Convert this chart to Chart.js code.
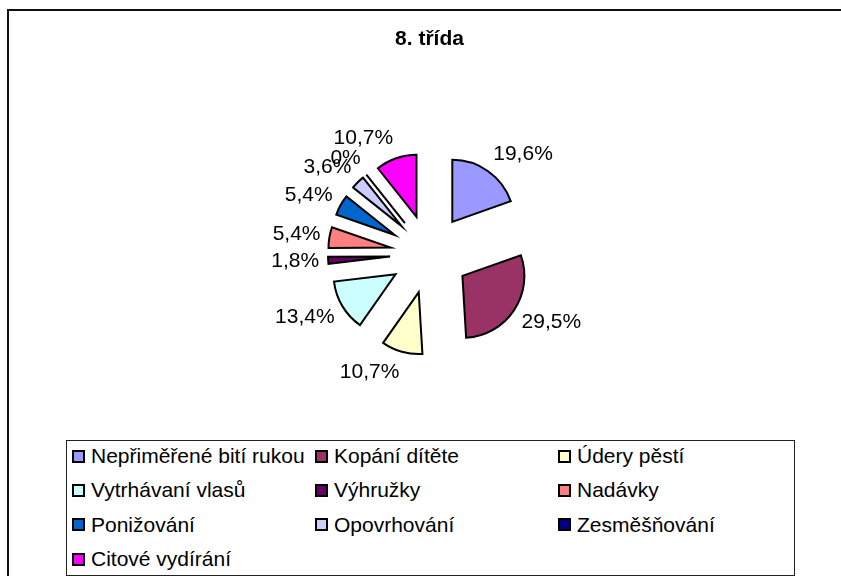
<!DOCTYPE html>
<html>
<head>
<meta charset="utf-8">
<script src="https://cdn.jsdelivr.net/npm/chart.js@4.4.0/dist/chart.umd.min.js"></script>
<style>
  html, body { margin: 0; padding: 0; background: #fff; }
  body { width: 841px; height: 576px; overflow: hidden; position: relative; font-family: "Liberation Sans", Arial, sans-serif; }
  #frame { position: absolute; left: 7px; top: 9px; width: 900px; height: 700px; border-left: 2px solid #111; border-top: 2px solid #111; }
  #chart { position: absolute; left: 0; top: 0; }
  #legend { position: absolute; left: 66px; top: 440px; width: 727px; height: 134px; border: 1px solid #222; background: #fff; }
  #legend .grid { display: grid; grid-template-columns: 243px 243px 241px; grid-auto-rows: 34.3px; margin-top: -2px; padding-left: 5px; }
  #legend .item { display: flex; align-items: center; font-size: 21px; color: #000; white-space: nowrap; }
  #legend .box { width: 9px; height: 9px; border: 2px solid #000; margin-right: 6px; flex: none; }
</style>
</head>
<body>
<div id="frame"></div>
<canvas id="chart" width="841" height="576"></canvas>
<div id="legend"><div class="grid"></div></div>
<script>
// data (procenta)
const categories = ["Nepřiměřené bití rukou", "Kopání dítěte", "Údery pěstí", "Vytrhávaní vlasů", "Výhružky", "Nadávky", "Ponižování", "Opovrhování", "Zesměšňování", "Citové vydírání"];
const values = [19.6, 29.5, 10.7, 13.4, 1.8, 5.4, 5.4, 3.6, 0, 10.7];
const colors = ["#9999FF", "#993366", "#FFFFCC", "#CCFFFF", "#660066", "#FF8080", "#0066CC", "#CCCCFF", "#000080", "#FF00FF"];
const title = "8. třída";

const FONT = "'Liberation Sans', Arial, sans-serif";
const EXPLODE = 39.5; // how far each slice is pulled out

const fmt = v => v === 0 ? "0%" : v.toFixed(1).replace(".", ",") + "%";

// pull every slice out along its middle angle (like excel exploded pie)
const explodePlugin = {
  id: "explode",
  afterUpdate(chart) {
    const meta = chart.getDatasetMeta(0);
    meta.data.forEach(arc => {
      const mid = (arc.startAngle + arc.endAngle) / 2;
      arc.cx = arc.x;
      arc.cy = arc.y;
      arc.x = arc.cx + Math.cos(mid) * EXPLODE;
      arc.y = arc.cy + Math.sin(mid) * EXPLODE;
    });
  },
  afterDatasetsDraw(chart) {
    const ctx = chart.ctx;
    const meta = chart.getDatasetMeta(0);
    ctx.save();
    meta.data.forEach((arc, i) => {
      const mid = (arc.startAngle + arc.endAngle) / 2;
      const cos = Math.cos(mid), sin = Math.sin(mid);
      // zero slice: excel still draws its edge as a line
      if (arc.endAngle - arc.startAngle === 0) {
        ctx.strokeStyle = "#000";
        ctx.lineWidth = 2;
        ctx.beginPath();
        ctx.moveTo(arc.x, arc.y);
        ctx.lineTo(arc.x + cos * arc.outerRadius, arc.y + sin * arc.outerRadius);
        ctx.stroke();
      }
      // data label outside the slice
      const txt = fmt(values[i]);
      ctx.font = "21px " + FONT;
      ctx.fillStyle = "#000";
      ctx.textAlign = "center";
      ctx.textBaseline = "middle";
      const hw = ctx.measureText(txt).width / 2;
      const d = arc.outerRadius + EXPLODE + 9;
      const px = arc.cx + cos * d;
      const py = arc.cy + sin * d;
      const sx = Math.abs(cos) < 0.1 ? 0 : Math.sign(cos);
      ctx.fillText(txt, px + sx * hw, py + sin * 12);
    });
    ctx.restore();
  }
};

new Chart(document.getElementById("chart"), {
  type: "pie",
  data: {
    labels: categories,
    datasets: [{
      data: values,
      backgroundColor: colors,
      borderColor: "#000",
      borderWidth: 2,
      borderJoinStyle: "miter"
    }]
  },
  options: {
    responsive: false,
    animation: false,
    events: [],
    radius: 62,
    layout: { padding: { left: 18, top: 0, right: 0, bottom: 130 } },
    plugins: {
      legend: { display: false },
      tooltip: { enabled: false },
      title: {
        display: true,
        text: title,
        color: "#000",
        font: { family: FONT, size: 21, weight: "bold", lineHeight: 1.2 },
        padding: { top: 27, bottom: 10 }
      }
    }
  },
  plugins: [explodePlugin]
});

// legend in three columns like the excel one
const grid = document.querySelector("#legend .grid");
categories.forEach((name, i) => {
  const item = document.createElement("div");
  item.className = "item";
  const box = document.createElement("span");
  box.className = "box";
  box.style.background = colors[i];
  item.appendChild(box);
  item.appendChild(document.createTextNode(name));
  grid.appendChild(item);
});
</script>
</body>
</html>
